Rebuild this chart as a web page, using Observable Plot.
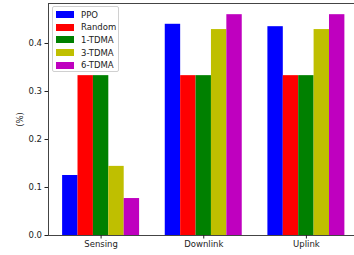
<!DOCTYPE html>
<html><head><meta charset="utf-8">
<script src="https://cdn.jsdelivr.net/npm/d3@7"></script>
<script src="https://cdn.jsdelivr.net/npm/@observablehq/plot@0.6"></script>
<style>
html,body{margin:0;padding:0;overflow:hidden;background:#fff;}
#wrap{position:relative;width:354px;height:255px;overflow:hidden;}
#chart svg{max-width:none !important;display:block;}
#legend{position:absolute;left:52px;top:6px;width:67px;height:66px;box-sizing:border-box;padding:1.5px 0 0 0;background:rgba(255,255,255,0.8);border:1px solid #d0d0d0;border-radius:2px;font-family:"DejaVu Sans",sans-serif;font-size:8.5px;color:#222;}
#legend .row{display:flex;align-items:center;height:12.6px;}
#legend .sw{width:18px;height:7px;margin-left:3px;margin-right:7px;}
</style></head>
<body><div id="wrap"><div id="chart"></div><div id="legend"></div></div>
<script>
const categories = ["Sensing", "Downlink", "Uplink"];
const series = ["PPO", "Random", "1-TDMA", "3-TDMA", "6-TDMA"];
const colors = ["#0000ff", "#ff0000", "#008000", "#bfbf00", "#bf00bf"];
const PPO = [0.125, 0.440, 0.435];
const Random = [0.333, 0.333, 0.333];
const TDMA1 = [0.333, 0.333, 0.333];
const TDMA3 = [0.144, 0.429, 0.429];
const TDMA6 = [0.077, 0.460, 0.460];
const yTicks = [0, 0.1, 0.2, 0.3, 0.4];

const values = [PPO, Random, TDMA1, TDMA3, TDMA6];
const barWidth = 0.15;
const xDomain = [-0.5125, 2.5125];
const yDomain = [0, 0.4833];
const data = [];
series.forEach((s, si) => categories.forEach((c, ci) => {
  const center = ci + (si - 2) * barWidth;
  data.push({series: s, category: c, x1: center - barWidth / 2, x2: center + barWidth / 2, value: values[si][ci]});
}));

const font = '"DejaVu Sans", sans-serif';
const chart = Plot.plot({
  width: 359, height: 255,
  marginLeft: 48, marginRight: 0.5, marginTop: 3, marginBottom: 20,
  style: {fontFamily: font, fontSize: "8.5px", color: "#222", background: "#fff", maxWidth: "none"},
  x: {type: "linear", domain: xDomain},
  y: {domain: yDomain},
  color: {domain: series, range: colors},
  marks: [
    Plot.rectY(data, {x1: "x1", x2: "x2", y: "value", fill: "series"}),
    Plot.ruleY(yDomain, {stroke: "#444", strokeWidth: 1}),
    Plot.ruleX([xDomain[0]], {stroke: "#444", strokeWidth: 1}),
    Plot.axisY({ticks: yTicks, tickFormat: d3.format(".1f"), tickSize: 3.5, tickPadding: 3, label: "(%)", labelAnchor: "center", labelArrow: "none", labelOffset: 32}),
    Plot.axisX({ticks: [0, 1, 2], tickFormat: i => categories[i], tickSize: 3.5, tickPadding: 2, label: null})
  ]
});
document.getElementById("chart").appendChild(chart);

const legend = document.getElementById("legend");
series.forEach((s, i) => {
  const row = document.createElement("div");
  row.className = "row";
  row.innerHTML = `<div class="sw" style="background:${colors[i]}"></div><span>${s}</span>`;
  legend.appendChild(row);
});
</script></body></html>
